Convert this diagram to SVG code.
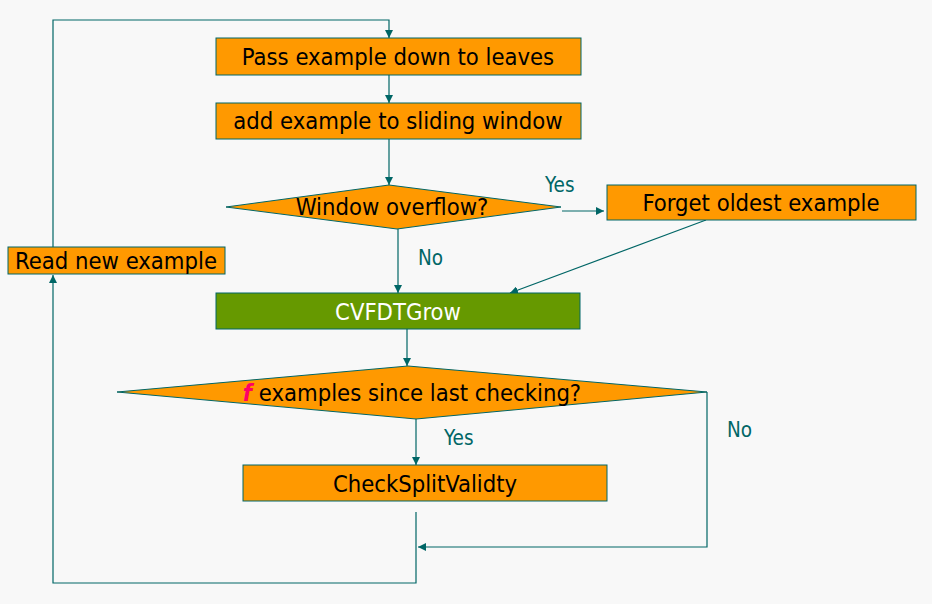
<svg xmlns="http://www.w3.org/2000/svg" width="932" height="604" viewBox="0 0 932 604">
<defs>
<marker id="ah" viewBox="0 0 10 10" refX="10" refY="5" markerWidth="8" markerHeight="8" markerUnits="userSpaceOnUse" orient="auto">
<path d="M0,0 L10,5 L0,10 z" fill="#006666"/>
</marker>
<style>
.box{fill:#ff9900;stroke:#006666;stroke-width:1}
.grn{fill:#669900;stroke:#006666;stroke-width:1}
.t{font-family:"DejaVu Sans Condensed","DejaVu Sans",sans-serif;font-stretch:condensed;font-size:23.6px;fill:#000;text-anchor:middle}
.tw{fill:#fff}
.lbl{font-family:"DejaVu Sans Condensed","DejaVu Sans",sans-serif;font-stretch:condensed;font-size:20.5px;fill:#006666}
.c{fill:none;stroke:#006666;stroke-width:1.2}
</style>
</defs>
<rect width="932" height="604" fill="#f8f8f8"/>
<g id="connectors">
<path class="c" d="M53,247 V20 H389 V38" marker-end="url(#ah)"/>
<path class="c" d="M389,75 V103" marker-end="url(#ah)"/>
<path class="c" d="M389,139 V185" marker-end="url(#ah)"/>
<path class="c" d="M562,211 H604" marker-end="url(#ah)"/>
<path class="c" d="M706,220 L510,293" marker-end="url(#ah)"/>
<path class="c" d="M398,229 V293" marker-end="url(#ah)"/>
<path class="c" d="M407,329 V366" marker-end="url(#ah)"/>
<path class="c" d="M416,419 V465" marker-end="url(#ah)"/>
<path class="c" d="M707,392 V547 H418" marker-end="url(#ah)"/>
<path class="c" d="M416,512 V583 H53 V275" marker-end="url(#ah)"/>
<text class="lbl" x="545" y="192">Yes</text>
<text class="lbl" x="418" y="265">No</text>
<text class="lbl" x="444" y="445">Yes</text>
<text class="lbl" x="727" y="437">No</text>
</g>
<g id="pass">
<rect class="box" x="216" y="38" width="365" height="37"/>
<text class="t" x="398" y="65">Pass example down to leaves</text>
</g>
<g id="add">
<rect class="box" x="216" y="103" width="365" height="36"/>
<text class="t" x="398" y="129">add example to sliding window</text>
</g>
<g id="overflow">
<polygon class="box" points="226,207 389,185 561,207 397,229"/>
<text class="t" x="392" y="215">Window overflow?</text>
</g>
<g id="forget">
<rect class="box" x="607" y="185" width="309" height="35"/>
<text class="t" x="761" y="211">Forget oldest example</text>
</g>
<g id="read">
<rect class="box" x="8" y="247" width="217" height="27"/>
<text class="t" x="116" y="269">Read new example</text>
</g>
<g id="grow">
<rect class="grn" x="216" y="293" width="364" height="36"/>
<text class="t tw" x="398" y="320">CVFDTGrow</text>
</g>
<g id="fcheck">
<polygon class="box" points="117,392 408,366 707,392 416,419"/>
<text class="t" x="412" y="401"><tspan style="font-family:'DejaVu Sans';font-style:italic;font-weight:bold;fill:#ff0066">f</tspan> examples since last checking?</text>
</g>
<g id="checksplit">
<rect class="box" x="243" y="465" width="364" height="36"/>
<text class="t" x="425" y="492">CheckSplitValidty</text>
</g>
</svg>
